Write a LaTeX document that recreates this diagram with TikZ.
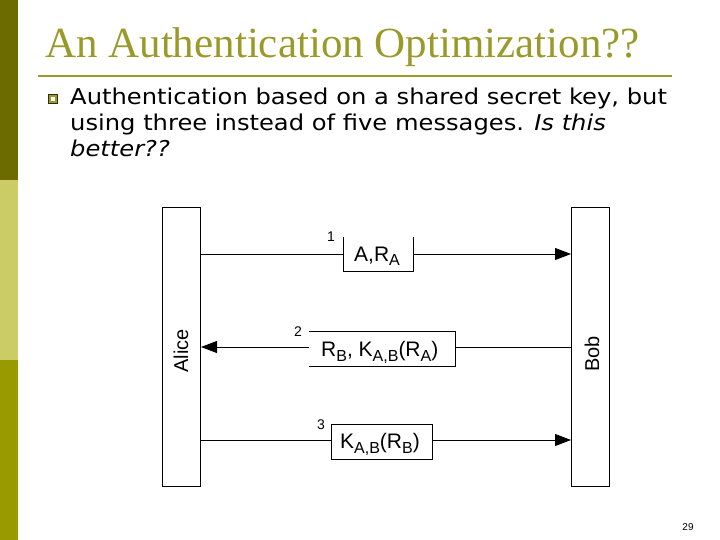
\documentclass[tikz,border=0pt]{standalone}
\usepackage{fontspec}
\setmainfont{Liberation Serif}
\newfontfamily\bodyf[FakeStretch=1.11]{DejaVu Sans}
\newfontfamily\arf{Liberation Sans}
\usetikzlibrary{arrows.meta}
\definecolor{olv}{HTML}{9A9A2A}
\definecolor{sa}{HTML}{6B6B00}
\definecolor{sb}{HTML}{CCCC66}
\definecolor{sc}{HTML}{999900}
\newcommand\sbs[1]{\raisebox{-5pt}{\fontsize{16}{16}\selectfont #1}}
\begin{document}
\begin{tikzpicture}[x=1pt,y=-1pt,
  party/.style={draw,thick,minimum width=38pt,minimum height=279pt,inner sep=0},
  msg/.style={thick,-{Triangle[length=16pt,width=12pt]}},
  lbl/.style={font=\arf\fontsize{21}{22}\selectfont,inner sep=0},
  num/.style={font=\arf\fontsize{14}{14}\selectfont,inner sep=0}]
\useasboundingbox (0,0) rectangle (720,540);
\fill[white] (0,0) rectangle (720,540);
\fill[sa] (0,0) rectangle (18,180);
\fill[sb] (0,180) rectangle (18,360);
\fill[sc] (0,360) rectangle (18,540);
\node[anchor=base west,inner sep=0,text=olv,font=\fontsize{43}{46}\selectfont] (title) at (45,58) {An Authentication Optimization??};
\draw[olv,line width=2pt] (38,76) -- (672,76);
\node[fill=olv,draw=black!70!olv,minimum size=9pt,inner sep=0] (bul) at (53,99) {};
\node[fill=white,minimum size=4pt,inner sep=0] at (bul) {};
\node[anchor=north west,inner sep=0,align=left,font=\bodyf\fontsize{21.8}{26}\selectfont] (body) at (70,88)
 {Authentication based on a shared secret key, but\\using three instead of five messages. \textit{Is this}\\\textit{better??}};
\node[party] (alice) at (181,346.5) {};
\node[party] (bob) at (590.5,346.5) {};
\node[rotate=90,font=\arf\fontsize{20}{20}\selectfont] (an) at (181,351) {Alice};
\node[rotate=90,font=\arf\fontsize{20}{20}\selectfont] (bn) at (592,354) {Bob};
% message 1
\coordinate (a1) at (200,254); \coordinate (b1) at (571,254);
\draw[msg] (a1) -- (b1);
\fill[white] (343,240) rectangle (413,271);
\draw[thick] (343,237) -- (343,271) -- (413,271) -- (413,237);
\node[lbl,anchor=base west] (m1) at (354,261) {A,R\sbs{A}};
\node[num] (n1) at (331,237) {1};
% message 2
\coordinate (a2) at (201,347); \coordinate (b2) at (571,347);
\draw[msg] (b2) -- (a2);
\fill[white] (309,331) rectangle (455,366);
\draw[thick] (309,331) -- (455,331) -- (455,366) -- (309,366);
\node[lbl,anchor=base west] (m2) at (321,356) {R\sbs{B}, K\sbs{A,B}(R\sbs{A})};
\node[num] (n2) at (298,332) {2};
% message 3
\coordinate (a3) at (200,440); \coordinate (b3) at (571,440);
\draw[msg] (a3) -- (b3);
\draw[thick,fill=white] (331,424) rectangle (432,459);
\node[lbl,anchor=base west] (m3) at (340,448) {K\sbs{A,B}(R\sbs{B})};
\node[num] (n3) at (321,425) {3};
\node[font=\arf\fontsize{10}{10}\selectfont] (pg) at (688,527) {29};
\end{tikzpicture}
\end{document}
